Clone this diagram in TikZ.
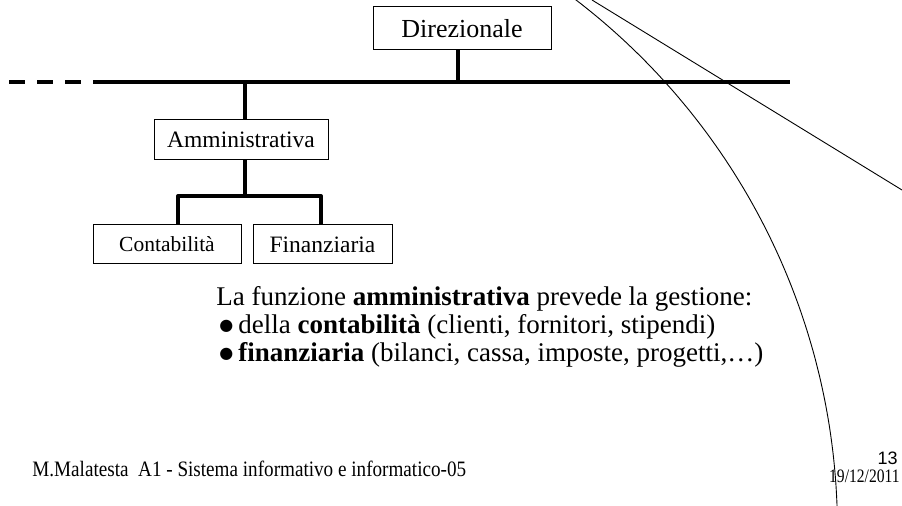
\documentclass[tikz,border=0pt]{standalone}
\usepackage{fontspec}
\setmainfont{Liberation Serif}
\setsansfont{Liberation Sans}
\newfontfamily\symbfont{DejaVu Sans}
\newcommand{\punto}{\makebox[9.5pt][l]{\raisebox{1.6pt}{\symbfont\fontsize{8}{8}\selectfont ●}}}

\begin{document}
\begin{tikzpicture}[x=0.5pt,y=-0.5pt,
    ufficio/.style ={rectangle, draw, line width=0.5pt, inner sep=0pt},
    linea/.style ={line width=2pt},
    riga/.style ={anchor=base west, inner sep=0pt, font=\fontsize{13.5}{14}\selectfont}]
   \useasboundingbox (0,0) rectangle (902,506);

   \node[ufficio, minimum width=89pt, minimum height=21.5pt, font=\fontsize{13}{14}\selectfont] (D) at (462,28.5) {Direzionale};
   \node[ufficio, minimum width=87pt, minimum height=20pt, font=\fontsize{11.75}{13}\selectfont] (A) at (241,140) {Amministrativa};
   \node[ufficio, minimum width=74pt, minimum height=19.5pt, font=\fontsize{10.75}{12}\selectfont] (C) at (167,244.5) {Contabilità};
   \node[ufficio, minimum width=69.5pt, minimum height=19.5pt, font=\fontsize{11.75}{13}\selectfont] (F) at (322.5,244.5) {Finanziaria};

   \coordinate (dl) at (9,82);
   \coordinate (bl) at (93,82);
   \coordinate (br) at (790,82);
   \coordinate (sd) at (458,82);
   \coordinate (sa) at (245,82);
   \coordinate (fl) at (178,196);
   \coordinate (fm) at (245,196);
   \coordinate (fr) at (321,196);

   \draw[linea, dash pattern=on 8pt off 6pt] (dl) -- (bl);
   \draw[linea] (bl) -- (br);
   \draw[linea] (sd |- D.south) -- (sd);
   \draw[linea] (sa) -- (sa |- A.north);
   \draw[linea] (sa |- A.south) -- (fm);
   \draw[linea, line join=round] (fl |- C.north) -- (fl) -- (fr) -- (fr |- F.north);

   \node[riga] (t1) at (216,306) {La funzione \textbf{amministrativa} prevede la gestione:};
   \node[riga] (t2) at (219,334) {\punto della \textbf{contabilità} (clienti, fornitori, stipendi)};
   \node[riga] (t3) at (219,362) {\punto\textbf{finanziaria} (bilanci, cassa, imposte, progetti,…)};

   \node[anchor=base west, inner sep=0pt, font=\fontsize{11}{12}\selectfont] (piede) at (32,477) {\scalebox{0.87}[1]{M.Malatesta\ \ A1 - Sistema informativo e informatico-05}};
   \node[anchor=base east, inner sep=0pt, font=\sffamily\fontsize{9}{10}\selectfont] (num) at (898,465) {13};
   \node[anchor=base east, inner sep=0pt, font=\fontsize{9.5}{10}\selectfont] (data) at (900,483) {\scalebox{0.82}[1]{19/12/2011}};

   \begin{scope}
   \clip (0,0) rectangle (902,506);
   \draw[line width=0.45pt] plot[domain=0:54, samples=80, smooth] ({169.5+668*cos(\x)},{530-668*sin(\x)});
   \draw[line width=0.45pt] (592,0) -- (902,190);
   \end{scope}
 \end{tikzpicture}
\end{document}
